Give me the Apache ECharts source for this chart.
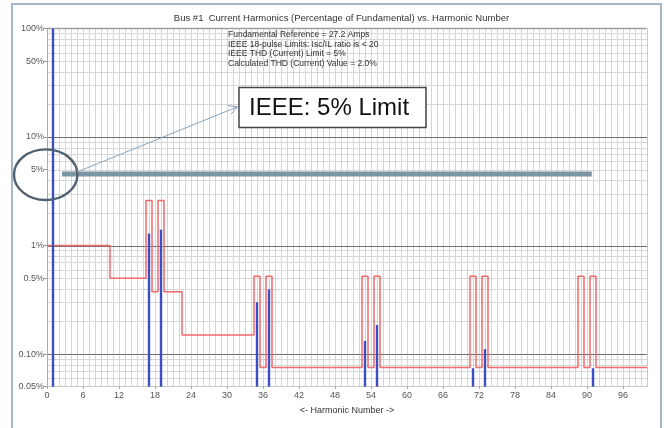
<!DOCTYPE html>
<html><head><meta charset="utf-8">
<script src="https://cdn.jsdelivr.net/npm/echarts@6/dist/echarts.min.js"></script>
<style>html,body{margin:0;padding:0;background:#fff}#c{width:664px;height:428px}</style>
</head><body><div id="c"></div>
<script>
// ---- data ----
const chartTitle = 'Bus #1  Current Harmonics (Percentage of Fundamental) vs. Harmonic Number';
const infoLines = [
  'Fundamental Reference = 27.2 Amps',
  'IEEE 18-pulse Limits: Isc/IL ratio is < 20',
  'IEEE THD (Current) Limit = 5%',
  'Calculated THD (Current) Value = 2.0%'
];
const xTickValues = [0, 6, 12, 18, 24, 30, 36, 42, 48, 54, 60, 66, 72, 78, 84, 90, 96];
const yTickValues = [0.05, 0.1, 0.5, 1, 5, 10, 50, 100];
const yTickLabels = ['0.05%', '0.10%', '0.5%', '1%', '5%', '10%', '50%', '100%'];
// IEEE limit (% of fundamental) for harmonic 0..100
const ieeeLimit = [
  1, 1, 1, 1, 1, 1, 1, 1, 1, 1, 1,                 // 0-10
  0.5, 0.5, 0.5, 0.5, 0.5, 0.5,                    // 11-16
  2.6, 0.375, 2.6, 0.375, 0.375, 0.375,            // 17-22
  0.15, 0.15, 0.15, 0.15, 0.15, 0.15, 0.15, 0.15, 0.15, 0.15, 0.15, 0.15, // 23-34
  0.52, 0.075, 0.52,                               // 35-37
  0.075, 0.075, 0.075, 0.075, 0.075, 0.075, 0.075, 0.075, 0.075, 0.075, 0.075, 0.075, 0.075, 0.075, 0.075, // 38-52
  0.52, 0.075, 0.52,                               // 53-55
  0.075, 0.075, 0.075, 0.075, 0.075, 0.075, 0.075, 0.075, 0.075, 0.075, 0.075, 0.075, 0.075, 0.075, 0.075, // 56-70
  0.52, 0.075, 0.52,                               // 71-73
  0.075, 0.075, 0.075, 0.075, 0.075, 0.075, 0.075, 0.075, 0.075, 0.075, 0.075, 0.075, 0.075, 0.075, 0.075, // 74-88
  0.52, 0.075, 0.52,                               // 89-91
  0.075, 0.075, 0.075, 0.075, 0.075, 0.075, 0.075, 0.075, 0.075  // 92-100
];
const barHarmonics = [1, 17, 19, 35, 37, 53, 55, 71, 73, 91];
const barCurrents  = [100, 1.29, 1.40, 0.30, 0.395, 0.132, 0.185, 0.074, 0.111, 0.074];
const limitLineX = [2.5, 90.8];
const limitLineValue = 4.55;
const calloutText = 'IEEE: 5% Limit';

// ---- chart ----
const X_MIN = 0, X_MAX = 100, Y_MIN = 0.05, Y_MAX = 100;
const FONT = '"Liberation Sans", Arial, sans-serif';

const vGrid = [];
for (let x = X_MIN + 1; x < X_MAX + 1; x++) vGrid.push([x, Y_MAX]);
const hGrid = [];
for (let e = -2; e <= 1; e++) {
  for (let m = 1; m <= 9; m++) {
    const v = +(m * Math.pow(10, e)).toPrecision(3);
    if (v > Y_MIN && v < Y_MAX) hGrid.push([X_MIN, v, m === 1 ? 1 : 0]);
  }
}

function lineItem(p1, p2, color, w) {
  return { type: 'line', shape: { x1: p1[0], y1: p1[1], x2: p2[0], y2: p2[1] },
           style: { stroke: color, lineWidth: w } };
}
const snap = v => Math.round(v) + 0.5;

const chart = echarts.init(document.getElementById('c'), null, { renderer: 'canvas' });
chart.setOption({
  animation: false,
  backgroundColor: '#fff',
  grid: { left: 47, right: 17, top: 28.5, bottom: 41.3, containLabel: false, outerBoundsMode: 'none' },
  xAxis: {
    type: 'value', min: X_MIN, max: X_MAX,
    name: '<- Harmonic Number ->', nameLocation: 'middle', nameGap: 19,
    nameTextStyle: { fontFamily: FONT, fontSize: 9, color: '#333' },
    axisLine: { show: true, lineStyle: { color: '#c8c8c8' } },
    axisTick: { show: true, length: 2, lineStyle: { color: '#999' }, customValues: xTickValues },
    axisLabel: { customValues: xTickValues, fontFamily: FONT, fontSize: 9, color: '#555', margin: 4 },
    splitLine: { show: false }
  },
  yAxis: {
    type: 'log', logBase: 10, min: Y_MIN, max: Y_MAX,
    axisLine: { show: true, lineStyle: { color: '#aaa' } },
    axisTick: { show: true, length: 3, lineStyle: { color: '#999' }, customValues: yTickValues },
    axisLabel: {
      customValues: yTickValues, fontFamily: FONT, fontSize: 9, color: '#555', margin: 3,
      formatter: function (v) {
        let best = 0, bd = Infinity;
        yTickValues.forEach((t, i) => { const d = Math.abs(Math.log10(t) - Math.log10(v)); if (d < bd) { bd = d; best = i; } });
        return yTickLabels[best];
      }
    },
    splitLine: { show: false }
  },
  series: [
    { // vertical grid
      type: 'custom', silent: true, z: 0, clip: false,
      data: vGrid, encode: { x: 0, y: 1 },
      renderItem: function (params, api) {
        const x = api.value(0);
        const p1 = api.coord([x, Y_MIN]), p2 = api.coord([x, Y_MAX]);
        const sx = snap(p1[0]);
        return lineItem([sx, p1[1]], [sx, p2[1]], x === X_MAX ? '#c8c8c8' : '#d6d6d6', 1);
      }
    },
    { // horizontal grid
      type: 'custom', silent: true, z: 0, clip: false,
      data: hGrid, encode: { x: 0, y: 1 },
      renderItem: function (params, api) {
        const v = api.value(1), major = api.value(2) === 1;
        const p1 = api.coord([X_MIN, v]), p2 = api.coord([X_MAX, v]);
        const sy = snap(p1[1]);
        return lineItem([p1[0], sy], [p2[0], sy], major ? '#6f6f6f' : '#d6d6d6', major ? 1.2 : 1);
      }
    },
    { // top border of plot
      type: 'custom', silent: true, z: 1, clip: false,
      data: [[X_MIN, Y_MAX]], encode: { x: 0, y: 1 },
      renderItem: function (params, api) {
        const p1 = api.coord([X_MIN, Y_MAX]), p2 = api.coord([X_MAX, Y_MAX]);
        return lineItem([p1[0], p1[1]], [p2[0], p2[1]], '#a0a0a0', 1.5);
      }
    },
    {
      name: 'IEEE limit', type: 'line', step: 'middle', z: 3,
      data: ieeeLimit.map((v, h) => [h, v]),
      symbol: 'none', lineStyle: { color: '#f26a6a', width: 1.5 }
    },
    {
      name: 'Harmonic current', type: 'custom', z: 4,
      data: barHarmonics.map((h, i) => [h, barCurrents[i]]), encode: { x: 0, y: 1 },
      renderItem: function (params, api) {
        const h = api.value(0), v = api.value(1);
        const top = api.coord([h, v]), base = api.coord([h, Y_MIN]);
        return { type: 'rect', shape: { x: top[0] - 1.2, y: top[1], width: 2.4, height: base[1] - top[1] },
                 style: { fill: '#3c4fc2' } };
      }
    },
    {
      name: '5% limit', type: 'line', z: 5,
      data: limitLineX.map(x => [x, limitLineValue]),
      symbol: 'none', lineStyle: { color: '#7c95a5', width: 5, cap: 'butt' }
    }
  ],
  graphic: [
    { type: 'rect', z: 100, silent: true, shape: { x: 12, y: 4, width: 649, height: 450 },
      style: { fill: null, stroke: '#a6b8c8', lineWidth: 2 } },
    { type: 'text', z: 100, x: 341.5, y: 18,
      style: { text: chartTitle, fontFamily: FONT, fontSize: 9.5, fill: '#333', align: 'center', verticalAlign: 'middle' } },
    { type: 'text', z: 100, x: 228, y: 30,
      style: { text: infoLines.join('\n'), fontFamily: FONT, fontSize: 8.5, lineHeight: 9.6, fill: '#333', align: 'left', verticalAlign: 'top' } },
    { type: 'ellipse', z: 100, shape: { cx: 45.7, cy: 174.7, rx: 31.7, ry: 25.3 },
      style: { fill: null, stroke: '#4f6170', lineWidth: 2.4 } },
    { type: 'line', z: 100, shape: { x1: 77, y1: 172, x2: 237, y2: 107 },
      style: { stroke: '#8aa3ba', lineWidth: 1 } },
    { type: 'polyline', z: 100, shape: { points: [[228, 105.5], [237.5, 107], [231, 114]] },
      style: { fill: null, stroke: '#8aa3ba', lineWidth: 1 } },
    { type: 'rect', z: 100, shape: { x: 239, y: 87.5, width: 187, height: 40 },
      style: { fill: '#fff', stroke: '#444', lineWidth: 1.5 } },
    { type: 'text', z: 101, x: 249, y: 108,
      style: { text: calloutText, fontFamily: FONT, fontSize: 24, fill: '#111', align: 'left', verticalAlign: 'middle' } }
  ]
});
</script></body></html>
